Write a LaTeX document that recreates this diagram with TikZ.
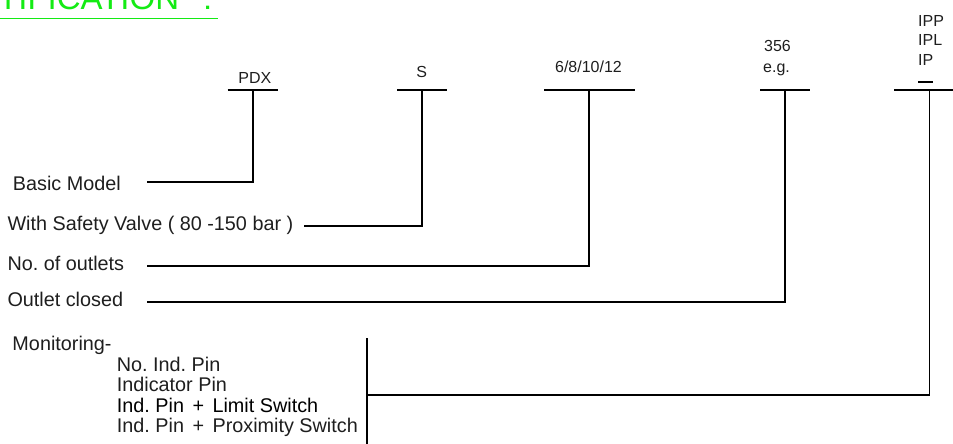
\documentclass[tikz,border=0pt]{standalone}
\usepackage{fontspec}
\setmainfont{Liberation Sans}
\frenchspacing
\definecolor{titlegreen}{RGB}{20,235,20}
\definecolor{txt}{RGB}{30,30,30}
\begin{document}
\begin{tikzpicture}[x=1pt,y=-1pt,
  lbl/.style={anchor=base west,inner sep=0,font=\fontsize{19.8}{23}\selectfont,text=txt},
  toplbl/.style={anchor=base,inner sep=0,font=\fontsize{16}{19}\selectfont,text=txt},
  teebar/.style={line width=1.8pt,black},
  conn/.style={line width=1.8pt,black}]
\useasboundingbox (0,0) rectangle (953,444);
% title
\node[anchor=base west,inner sep=0,font=\fontsize{33}{40}\selectfont,text=titlegreen] (title) at (-2,10) {TIFICATION};
\node[anchor=base west,inner sep=0,font=\fontsize{33}{40}\selectfont,text=titlegreen] (colon) at (203,10) {:};
\draw[titlegreen,line width=1.5pt] (0,18.3) -- (217.7,18.3);
% top labels
\node[toplbl] (pdx) at (254.8,83) {PDX};
\node[toplbl] (s) at (421.7,77.5) {S};
\node[toplbl] (outl) at (588.5,72.7) {6/8/10/12};
\node[toplbl] (n356) at (777.5,51.7) {356};
\node[toplbl] (eg) at (776.5,73) {e.g.};
\node[toplbl,anchor=base west] (ipp) at (918,26.7) {IPP};
\node[toplbl,anchor=base west] (ipl) at (918,45.7) {IPL};
\node[toplbl,anchor=base west] (ip) at (918,66) {IP};
\draw[line width=1.6pt] (918.3,81.7) -- (933.3,81.7);
% tee bars
\coordinate (t1) at (252.7,90);
\coordinate (t2) at (422.3,90);
\coordinate (t3) at (588.7,90);
\coordinate (t4) at (785,90);
\coordinate (t5) at (929.5,90);
\draw[teebar] (227.7,90) -- (277.7,90);
\draw[teebar] (397.3,90) -- (447.3,90);
\draw[teebar] (544.3,90) -- (635,90);
\draw[teebar] (760,90) -- (810,90);
\draw[teebar] (894.3,90) -- (953,90);
% left labels
\node[lbl] (basic) at (12.7,190) {Basic Model};
\node[lbl] (safety) at (7.3,230) {With Safety Valve ( 80 -150 bar )};
\node[lbl] (nout) at (7.3,270) {No. of outlets};
\node[lbl] (closed) at (7.3,306.5) {Outlet closed};
\node[lbl] (mon) at (12.3,350) {Monitoring-};
\node[lbl] (m1) at (116.7,371) {No. Ind. Pin};
\node[lbl] (m2) at (116.7,391.7) {Indicator Pin};
\node[lbl,text=black] (m3) at (116.7,412.3) {Ind. Pin \hspace{3pt}+\hspace{3pt} Limit Switch};
\node[lbl] (m4) at (116.7,432.7) {Ind. Pin \hspace{3pt}+\hspace{3pt} Proximity Switch};
% connector ends
\coordinate (e1) at (146.7,181.7);
\coordinate (e2) at (304.3,225.7);
\coordinate (e3) at (146.7,265.7);
\coordinate (e4) at (146.7,302.3);
\coordinate (e5) at (366.7,394.8);
\coordinate (bartop) at (366.7,338);
\coordinate (barbot) at (366.7,446);
\draw[conn] (t1) |- (e1);
\draw[conn] (t2) |- (e2);
\draw[conn] (t3) |- (e3);
\draw[conn] (t4) |- (e4);
\draw[conn] (t5) |- (e5);
\draw[conn] (bartop) -- (barbot);
\end{tikzpicture}
\end{document}
